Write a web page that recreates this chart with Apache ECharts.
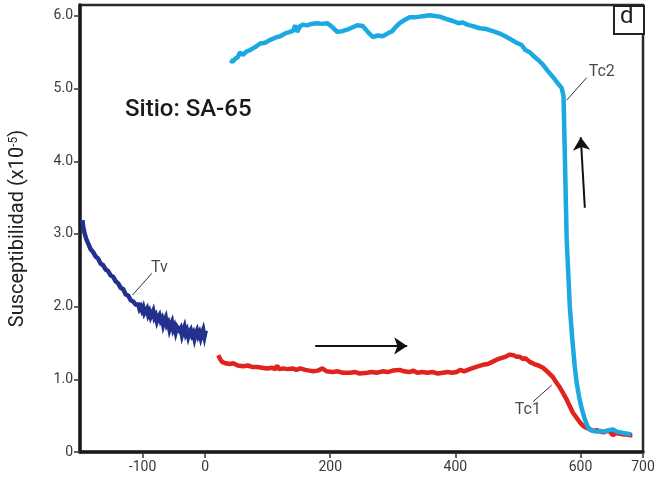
<!DOCTYPE html>
<html>
<head>
<meta charset="utf-8">
<script src="https://cdn.jsdelivr.net/npm/echarts@6/dist/echarts.min.js"></script>
<style>
  html, body { margin: 0; padding: 0; background: #fff; }
  #chart { width: 655px; height: 483px; }
</style>
</head>
<body>
<div id="chart"></div>
<script>
// Temperature axis (°C) and susceptibility (x10^-5) readings
const xTicks = [-100, 0, 200, 400, 600, 700];
const yTicks = [0, 1, 2, 3, 4, 5, 6];

// Low-temperature run (Tv transition)
const lowT = [-196,-195,-193,-190,-187,-183,-179,-175,-171,-167,-163,-159,-155,-151,-147,-143,-139,-135,-131,-127,-123,-119,-115,-111,
  -109,-107,-105,-103,-101,-99,-97,-95,-93,-91,-89,-87,-85,-83,-81,-79,-77,-75,-73,-71,-69,-67,-65,-63,-61,-59,-57,-55,-53,-51,
  -49,-47,-45,-43,-41,-39,-37,-35,-33,-31,-29,-27,-25,-23,-21,-19,-17,-15,-13,-11,-9,-7,-5,-3,-1,1];
const lowK = [3.19,3.10,3.02,2.93,2.87,2.79,2.75,2.69,2.66,2.59,2.57,2.51,2.49,2.43,2.41,2.35,2.32,2.26,2.24,2.17,2.15,2.09,2.07,2.03,
  2.02,2.03,1.97,2.00,1.95,1.99,1.91,1.94,1.97,1.89,1.93,1.86,1.90,1.94,1.85,1.88,1.80,1.85,1.88,1.81,1.84,1.75,1.81,1.85,1.75,1.78,1.69,1.75,1.79,1.69,
  1.73,1.65,1.72,1.74,1.67,1.70,1.61,1.67,1.72,1.63,1.67,1.59,1.65,1.68,1.61,1.64,1.56,1.63,1.67,1.60,1.64,1.57,1.63,1.68,1.59,1.67];

// Heating run (Tc1)
const heatT = [21,24,27,33,39,45,52,61,68,75,83,91,99,107,112,115,118,125,131,140,146,152,160,167,173,180,188,194,204,212,220,232,240,247,259,266,274,284,292,300,311,318,326,333,339,347,355,364,372,380,388,395,402,408,414,423,430,437,444,452,459,466,473,480,487,493,498,503,508,512,519,526,533,540,548,556,562,567,573,578,583,588,594,599,604,610,616,621,626,632,637,642,647,652,656,663,670,675,679,683];
const heatK = [1.33,1.28,1.24,1.22,1.21,1.22,1.19,1.18,1.19,1.17,1.17,1.16,1.15,1.16,1.14,1.19,1.14,1.15,1.14,1.15,1.13,1.15,1.13,1.12,1.11,1.12,1.15,1.11,1.10,1.11,1.09,1.09,1.10,1.08,1.09,1.10,1.09,1.11,1.10,1.12,1.13,1.11,1.10,1.12,1.09,1.10,1.09,1.10,1.08,1.09,1.10,1.09,1.10,1.13,1.11,1.14,1.16,1.18,1.20,1.21,1.24,1.27,1.29,1.31,1.34,1.33,1.31,1.31,1.28,1.29,1.24,1.21,1.19,1.16,1.10,1.03,0.95,0.89,0.80,0.72,0.63,0.54,0.47,0.41,0.36,0.33,0.31,0.29,0.30,0.28,0.27,0.29,0.28,0.23,0.26,0.25,0.24,0.24,0.23,0.23];

// Cooling run (Tc2)
const coolT = [40,44,48,52,56,60,66,72,80,88,96,104,112,120,128,136,141,144,147,152,157,163,170,179,187,195,203,211,219,227,235,243,252,260,268,276,284,292,299,305,311,318,327,335,343,351,359,367,375,385,396,405,412,419,428,439,449,460,470,482,490,498,506,512,519,526,533,540,548,556,563,570,573,578,583,587,591,594,598,602,607,612,616,620,626,632,638,645,652,658,664,670,676,681];
const coolK = [5.39,5.37,5.41,5.43,5.50,5.46,5.51,5.53,5.57,5.62,5.63,5.67,5.70,5.72,5.76,5.78,5.80,5.87,5.78,5.86,5.88,5.87,5.89,5.90,5.89,5.90,5.85,5.78,5.79,5.81,5.84,5.87,5.86,5.78,5.71,5.73,5.72,5.76,5.79,5.85,5.90,5.94,5.98,5.98,5.99,6.00,6.01,6.00,5.99,5.96,5.93,5.90,5.91,5.88,5.86,5.83,5.82,5.79,5.76,5.71,5.67,5.63,5.60,5.53,5.50,5.44,5.39,5.33,5.24,5.16,5.08,5.01,4.89,2.92,2.00,1.55,1.17,0.95,0.75,0.60,0.45,0.34,0.30,0.29,0.28,0.29,0.28,0.30,0.31,0.28,0.27,0.26,0.25,0.24];

// Annotation labels and their leader lines, in data units
const tagNames = ['Tv', 'Tc1', 'Tc2'];
const tagPos = [[-73, 2.53], [516, 0.58], [634, 5.23]];
const leaders = [
  [[-116, 2.16], [-85, 2.46]],
  [[524, 0.69], [554, 0.92]],
  [[578, 4.84], [610, 5.15]]
];
// Direction arrows (heating →, cooling ↑)
const arrows = [
  [[176, 1.46], [323, 1.46]],
  [[607, 3.36], [600.5, 4.33]]
];

const zip = (xs, ys) => xs.map((x, i) => [x, ys[i]]);
const FONT = 'Roboto, "Liberation Sans", sans-serif';

const chart = echarts.init(document.getElementById('chart'), null, { renderer: 'canvas' });
chart.setOption({
  animation: false,
  backgroundColor: '#fff',
  grid: {
    left: 80, right: 12, top: 5, bottom: 31,
    containLabel: false, outerBoundsMode: 'none',
    show: true, borderColor: '#2a2a2a', borderWidth: 2.5, backgroundColor: 'transparent'
  },
  xAxis: {
    type: 'value', min: -200, max: 700, interval: 100,
    splitLine: { show: false },
    axisLine: { show: true, onZero: false, lineStyle: { color: '#1a1a1a', width: 3.5 } },
    axisTick: { show: true, customValues: xTicks, length: 6, lineStyle: { color: '#333', width: 1.5 } },
    axisLabel: { customValues: xTicks, color: '#3a3a3a', fontSize: 14, fontFamily: FONT, margin: 8 }
  },
  yAxis: {
    type: 'value', min: 0, max: 6.15, interval: 1,
    name: '{a|Susceptibilidad (x10}{s|-5}{a|)}',
    nameLocation: 'middle', nameGap: 52, nameRotate: 90,
    nameTextStyle: {
      rich: {
        a: { fontSize: 20, color: '#222', fontFamily: FONT, verticalAlign: 'bottom' },
        s: { fontSize: 12, color: '#222', fontFamily: FONT, verticalAlign: 'top' }
      }
    },
    splitLine: { show: false },
    axisLine: { show: true, onZero: false, lineStyle: { color: '#1a1a1a', width: 3.5 } },
    axisTick: { show: true, customValues: yTicks, length: 6, lineStyle: { color: '#333', width: 1.5 } },
    axisLabel: {
      customValues: yTicks, color: '#3a3a3a', fontSize: 14, fontFamily: FONT, margin: 7,
      formatter: v => (v === 0 ? '0' : v.toFixed(1))
    }
  },
  series: [
    {
      type: 'line', data: zip(lowT, lowK), showSymbol: false,
      lineStyle: { color: '#23308e', width: 4.5, join: 'miter', miterLimit: 6 }
    },
    {
      type: 'line', data: zip(heatT, heatK), showSymbol: false,
      lineStyle: { color: '#e1231f', width: 4.5 }
    },
    {
      type: 'line', data: zip(coolT, coolK), showSymbol: false,
      lineStyle: { color: '#1ba9e1', width: 4.5 }
    },
    {
      type: 'lines', coordinateSystem: 'cartesian2d', silent: true,
      data: leaders.map(c => ({ coords: c })),
      lineStyle: { color: '#333', width: 1, opacity: 1 },
      symbol: 'none'
    },
    {
      type: 'lines', coordinateSystem: 'cartesian2d', silent: true,
      data: arrows.map(c => ({ coords: c })),
      lineStyle: { color: '#111', width: 2, opacity: 1 },
      symbol: ['none', 'arrow'], symbolSize: [0, 13]
    },
    {
      type: 'scatter', silent: true, symbolSize: 0,
      data: tagPos.map((p, i) => ({ value: p, name: tagNames[i] })),
      label: {
        show: true, position: 'inside', formatter: '{b}',
        color: '#1a1a1a', fontSize: 16, fontFamily: FONT
      }
    }
  ],
  graphic: [
    {
      type: 'text', left: 125, top: 98,
      style: { text: 'Sitio: SA-65', fill: '#1a1a1a', font: '500 24px ' + FONT }
    },
    {
      type: 'rect', left: 613, top: 5,
      shape: { width: 30, height: 28 },
      style: { fill: '#fff', stroke: '#222', lineWidth: 2 }
    },
    {
      type: 'text', left: 620, top: 5,
      style: { text: 'd', fill: '#1a1a1a', font: '24px ' + FONT }
    }
  ]
});
</script>
</body>
</html>
